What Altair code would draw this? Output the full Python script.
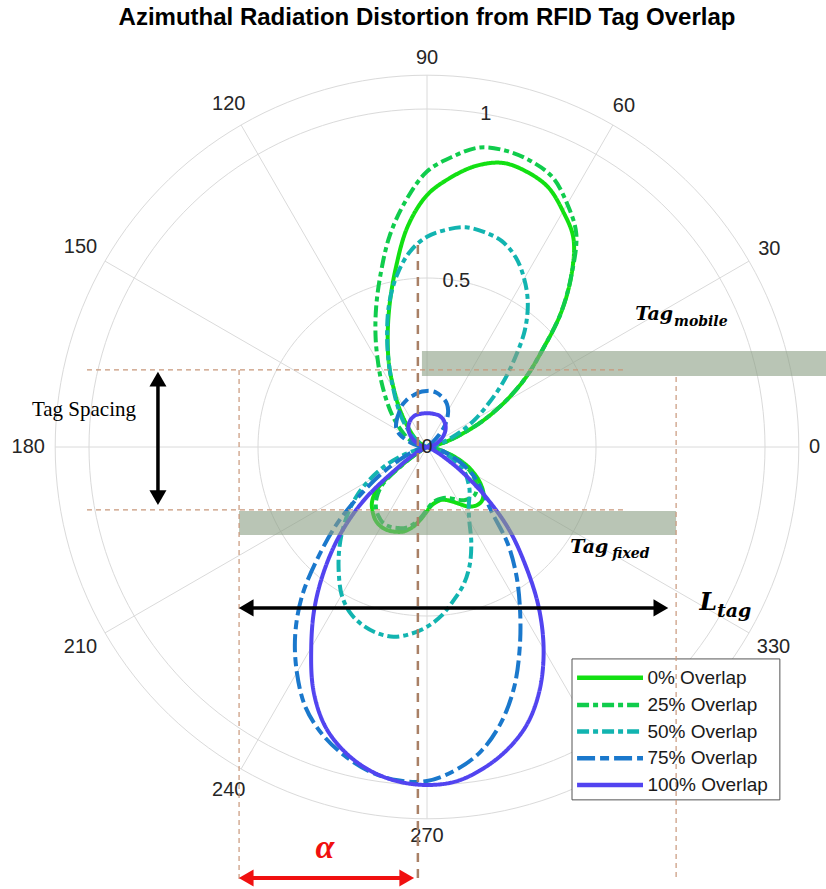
import altair as alt
import numpy as np
import pandas as pd

# ---------------- radiation patterns (angle in degrees, normalised gain) ----------------
SERIES = ["0% Overlap", "25% Overlap", "50% Overlap", "75% Overlap", "100% Overlap"]
COLORS = ["#12e012", "#10cc4c", "#12b4b0", "#1a78cc", "#5244f0"]
DASHES = [[1, 0], [12, 4, 5, 4], [12, 4, 5, 4], [18, 5, 9, 5], [1, 0]]

ANGLES = list(range(0, 361, 5))

R_0 = [0, 0.005, 0.02, 0.055, 0.105, 0.18, 0.265, 0.355, 0.445,
       0.56, 0.665, 0.755, 0.805, 0.848, 0.866, 0.87, 0.845, 0.80,
       0.745, 0.655, 0.535, 0.43, 0.34, 0.265, 0.195, 0.145, 0.105,
       0.075, 0.055, 0.04, 0.025, 0.015, 0.01, 0.005, 0, 0,
       0, 0, 0, 0, 0, 0.005, 0.02, 0.08, 0.19,
       0.23, 0.25, 0.265, 0.272, 0.272, 0.267, 0.258, 0.24, 0.215,
       0.19, 0.172, 0.165, 0.162, 0.167, 0.178, 0.195, 0.215, 0.226,
       0.228, 0.218, 0.195, 0.165, 0.13, 0.09, 0.05, 0.02, 0.005,
       0]
R_25 = [0, 0.005, 0.02, 0.055, 0.105, 0.18, 0.265, 0.355, 0.445,
        0.56, 0.665, 0.77, 0.83, 0.88, 0.9, 0.907, 0.9, 0.862,
        0.815, 0.73, 0.635, 0.53, 0.44, 0.36, 0.29, 0.235, 0.19,
        0.155, 0.125, 0.1, 0.08, 0.065, 0.045, 0.025, 0.01, 0,
        0, 0, 0, 0, 0, 0.005, 0.02, 0.07, 0.17,
        0.21, 0.235, 0.25, 0.26, 0.26, 0.255, 0.248, 0.232, 0.21,
        0.185, 0.168, 0.16, 0.158, 0.16, 0.168, 0.18, 0.192, 0.198,
        0.2, 0.192, 0.175, 0.15, 0.12, 0.085, 0.05, 0.02, 0.005,
        0]
R_50 = [0, 0.005, 0.02, 0.04, 0.07, 0.115, 0.165, 0.22, 0.29,
        0.365, 0.45, 0.52, 0.575, 0.62, 0.648, 0.658, 0.66, 0.645,
        0.622, 0.58, 0.515, 0.435, 0.345, 0.265, 0.2, 0.155, 0.12,
        0.09, 0.065, 0.045, 0.03, 0.02, 0.01, 0.005, 0, 0,
        0, 0, 0.005, 0.03, 0.09, 0.145, 0.2, 0.255, 0.305,
        0.355, 0.405, 0.455, 0.505, 0.54, 0.56, 0.57, 0.57, 0.555,
        0.532, 0.5, 0.459, 0.42, 0.37, 0.31, 0.25, 0.215, 0.195,
        0.178, 0.158, 0.14, 0.115, 0.085, 0.06, 0.04, 0.025, 0.01,
        0]
R_75 = [0, 0, 0, 0, 0, 0, 0, 0, 0.02,
        0.05, 0.08, 0.105, 0.125, 0.14, 0.15, 0.157, 0.163, 0.166,
        0.166, 0.165, 0.162, 0.158, 0.155, 0.15, 0.145, 0.138, 0.13,
        0.124, 0.118, 0.112, 0.104, 0.09, 0.07, 0.05, 0.03, 0.012,
        0, 0, 0, 0.02, 0.05, 0.09, 0.15, 0.23, 0.34,
        0.45, 0.575, 0.68, 0.77, 0.85, 0.905, 0.945, 0.975, 0.99,
        0.988, 0.96, 0.915, 0.845, 0.755, 0.65, 0.55, 0.46, 0.37,
        0.27, 0.22, 0.185, 0.15, 0.11, 0.075, 0.05, 0.03, 0.012,
        0]
R_100 = [0, 0.003, 0.01, 0.02, 0.03, 0.04, 0.05, 0.06, 0.07,
         0.078, 0.085, 0.09, 0.095, 0.098, 0.1, 0.1, 0.1, 0.1,
         0.1, 0.1, 0.1, 0.1, 0.1, 0.098, 0.095, 0.09, 0.085,
         0.078, 0.07, 0.06, 0.05, 0.04, 0.03, 0.02, 0.01, 0.003,
         0, 0, 0, 0, 0, 0, 0.04, 0.1, 0.24,
         0.36, 0.47, 0.58, 0.685, 0.795, 0.88, 0.935, 0.972, 0.993,
         1.0, 0.993, 0.965, 0.925, 0.87, 0.79, 0.69, 0.575, 0.45,
         0.34, 0.22, 0.12, 0.05, 0.02, 0.005, 0, 0, 0,
         0]
PATTERNS = [R_0, R_25, R_50, R_75, R_100]

# polar grid
RINGS = [0.5, 1.0, 1.1]
SPOKES = list(range(0, 360, 30))
RADIAL_TICKS = [0, 0.5, 1]
RADIAL_TICK_TEXT = ["0", "0.5", "1"]
RADIAL_TICK_ANGLE = 80

# ---------------- canvas: one radial unit = 338 px, pole at (427, 447) ----------------
PX = 338.0
W, H = 826, 889
CX, CY = 427, 447
xs = alt.Scale(domain=[-CX / PX, (W - CX) / PX], nice=False, zero=False)
ys = alt.Scale(domain=[-(H - CY) / PX, CY / PX], nice=False, zero=False)


def ex(field):
    return alt.X(field, type="quantitative", scale=xs, axis=None)


def ey(field):
    return alt.Y(field, type="quantitative", scale=ys, axis=None)


GRID = "#dadada"
FONT = "Liberation Sans"
SERIF = "Liberation Serif"
MATH = "DejaVu Serif"
TICK_SIZE = 20

# ---- grid rings and spokes ----
ring_rows = []
for rr in RINGS:
    for k, a in enumerate(np.arange(0, 361, 2)):
        ring_rows.append({"ring": rr, "k": k, "a": float(a)})
rings = alt.Chart(pd.DataFrame(ring_rows)).transform_calculate(
    x="datum.ring*cos(datum.a*PI/180)", y="datum.ring*sin(datum.a*PI/180)"
).mark_line(color=GRID, strokeWidth=1).encode(
    x=ex("x"), y=ey("y"), detail="ring:N", order="k:Q"
)

spokes = alt.Chart(pd.DataFrame({"a": SPOKES, "x0": 0.0, "y0": 0.0})).transform_calculate(
    x1=f"{RINGS[-1]}*cos(datum.a*PI/180)", y1=f"{RINGS[-1]}*sin(datum.a*PI/180)"
).mark_rule(color=GRID, strokeWidth=1).encode(
    x=ex("x0"), y=ey("y0"), x2="x1:Q", y2="y1:Q"
)

# angle labels sit just outside the outer ring; the anchor is pushed out by the
# label's half extent along the spoke direction so the text never touches the ring
half_w = f"length(datum.t)*{0.28 * TICK_SIZE}/{PX}"
half_h = f"{0.36 * TICK_SIZE}/{PX}"
angle_labels = alt.Chart(pd.DataFrame({"a": SPOKES, "t": [str(a) for a in SPOKES]})).transform_calculate(
    rl=f"1.13 + {half_w}*abs(cos(datum.a*PI/180)) + {half_h}*abs(sin(datum.a*PI/180))"
).transform_calculate(
    x="datum.rl*cos(datum.a*PI/180)", y="datum.rl*sin(datum.a*PI/180)"
).mark_text(font=FONT, fontSize=TICK_SIZE, color="#262626", align="center", baseline="middle").encode(
    x=ex("x"), y=ey("y"), text="t:N"
)

radial_labels = alt.Chart(pd.DataFrame({"r": RADIAL_TICKS, "t": RADIAL_TICK_TEXT})).transform_calculate(
    x=f"datum.r*cos({RADIAL_TICK_ANGLE}*PI/180)", y=f"datum.r*sin({RADIAL_TICK_ANGLE}*PI/180)"
).mark_text(font=FONT, fontSize=TICK_SIZE, color="#262626", align="center", baseline="middle").encode(
    x=ex("x"), y=ey("y"), text="t:N"
)

# ---- radiation pattern curves ----
curves = []
for name, col, dash, rv in zip(SERIES, COLORS, DASHES, PATTERNS):
    df = pd.DataFrame({"i": range(len(ANGLES)), "ang": ANGLES, "r": rv})
    curves.append(
        alt.Chart(df).transform_calculate(
            x="datum.r*cos(datum.ang*PI/180)", y="datum.r*sin(datum.ang*PI/180)"
        ).mark_line(color=col, strokeDash=dash, strokeWidth=4, interpolate="catmull-rom",
                    strokeJoin="round").encode(x=ex("x"), y=ey("y"), order="i:Q")
    )

# ---- tag positions ----
bands = alt.Chart(pd.DataFrame({
    "x": [-0.015, -0.556], "x2": [1.30, 0.737],
    "y": [0.210, -0.260], "y2": [0.284, -0.189],
})).mark_rect(color="#8b9f83", opacity=0.6, clip=True).encode(
    x=ex("x"), x2="x2:Q", y=ey("y"), y2="y2:Q"
)

thin_guides = alt.Chart(pd.DataFrame({
    "x": [-1.006, -1.006, -0.556, 0.737],
    "x2": [0.586, 0.586, -0.556, 0.737],
    "y": [0.228, -0.186, 0.228, 0.207],
    "y2": [0.228, -0.186, -1.281, -1.281],
})).mark_rule(color="#c8977a", strokeWidth=1.2, strokeDash=[5, 4]).encode(
    x=ex("x"), x2="x2:Q", y=ey("y"), y2="y2:Q"
)

axis_guide = alt.Chart(pd.DataFrame({"x": [-0.027], "y": [0.598], "y2": [-1.281]})).mark_rule(
    color="#a98066", strokeWidth=2.5, strokeDash=[9, 7]
).encode(x=ex("x"), y=ey("y"), y2="y2:Q")

# ---- dimension arrows ----
shafts = alt.Chart(pd.DataFrame({
    "x": [-0.796, -0.520, -0.520], "x2": [-0.796, 0.680, -0.075],
    "y": [0.195, -0.476, -1.275], "y2": [-0.145, -0.476, -1.275],
    "c": ["#000000", "#000000", "#f01010"],
    "w": [3.5, 3.5, 4.0],
})).mark_rule().encode(
    x=ex("x"), x2="x2:Q", y=ey("y"), y2="y2:Q",
    color=alt.Color("c:N", scale=None), strokeWidth=alt.StrokeWidth("w:Q", scale=None)
)

heads = alt.Chart(pd.DataFrame({
    "x": [-0.796, -0.796, -0.535, 0.692, -0.535, -0.060],
    "y": [0.2006, -0.150, -0.476, -0.476, -1.275, -1.275],
    "s": ["triangle-up", "triangle-down", "triangle-left", "triangle-right",
          "triangle-left", "triangle-right"],
    "c": ["#000000"] * 4 + ["#f01010"] * 2,
})).mark_point(filled=True, size=290, opacity=1, strokeWidth=0).encode(
    x=ex("x"), y=ey("y"),
    shape=alt.Shape("s:N", scale=None), color=alt.Color("c:N", scale=None)
)


# ---- annotation texts ----
def label(df, **kw):
    return alt.Chart(pd.DataFrame(df)).mark_text(**kw).encode(x=ex("x"), y=ey("y"), text="t:N")


spacing_txt = label({"x": [-1.015], "y": [0.109], "t": ["Tag Spacing"]},
                    font=SERIF, fontSize=21, color="#000000", align="center", baseline="middle")
alpha_txt = label({"x": [-0.302], "y": [-1.186], "t": ["α"]},
                  font=SERIF, fontSize=34, fontStyle="italic", fontWeight="bold",
                  color="#f01010", align="center", baseline="middle")
tag_big = label({"x": [0.616, 0.424], "y": [0.376, -0.314], "t": ["Tag", "Tag"]},
                font=MATH, fontSize=19, fontStyle="italic", fontWeight="bold",
                color="#000000", align="left", baseline="alphabetic")
tag_sub = label({"x": [0.731, 0.548], "y": [0.358, -0.328], "t": ["mobile", "fixed"]},
                font=MATH, fontSize=14, fontStyle="italic", fontWeight="bold",
                color="#000000", align="left", baseline="alphabetic")
l_big = label({"x": [0.806], "y": [-0.482], "t": ["L"]},
              font=MATH, fontSize=25, fontStyle="italic", fontWeight="bold",
              color="#000000", align="left", baseline="alphabetic")
l_sub = label({"x": [0.858], "y": [-0.504], "t": ["tag"]},
              font=MATH, fontSize=19, fontStyle="italic", fontWeight="bold",
              color="#000000", align="left", baseline="alphabetic")
title = label({"x": [0.0], "y": [1.268], "t": ["Azimuthal Radiation Distortion from RFID Tag Overlap"]},
              font=FONT, fontSize=24, fontWeight="bold", color="#000000",
              align="center", baseline="middle")

# ---- legend ----
LEG_X0, LEG_X1, LEG_TX = 0.444, 0.639, 0.652
LEG_ROWS = [-0.683, -0.763, -0.842, -0.921, -1.000]
leg_box = alt.Chart(pd.DataFrame({"x": [0.429], "x2": [1.044], "y": [-0.627], "y2": [-1.044]})).mark_rect(
    fill="white", stroke="#555555", strokeWidth=1
).encode(x=ex("x"), x2="x2:Q", y=ey("y"), y2="y2:Q")

leg_lines = []
for name, col, dash, yy in zip(SERIES, COLORS, DASHES, LEG_ROWS):
    leg_lines.append(
        alt.Chart(pd.DataFrame({"x": [LEG_X0], "x2": [LEG_X1], "y": [yy]})).mark_rule(
            color=col, strokeDash=dash, strokeWidth=4.5
        ).encode(x=ex("x"), x2="x2:Q", y=ey("y"))
    )
leg_text = alt.Chart(pd.DataFrame({"x": [LEG_TX] * 5, "y": LEG_ROWS, "t": SERIES})).mark_text(
    font=FONT, fontSize=19, color="#1a1a1a", align="left", baseline="middle"
).encode(x=ex("x"), y=ey("y"), text="t:N")

chart = alt.layer(
    rings, spokes, angle_labels, *curves, leg_box, bands, thin_guides, axis_guide,
    radial_labels, shafts, heads, *leg_lines, leg_text,
    spacing_txt, alpha_txt, tag_big, tag_sub, l_big, l_sub, title,
).properties(
    width=W, height=H, padding=0, autosize=alt.AutoSizeParams(type="none"), background="white"
).configure_view(stroke=None)

chart.save("out.html", embed_options={"renderer": "svg", "actions": False})
